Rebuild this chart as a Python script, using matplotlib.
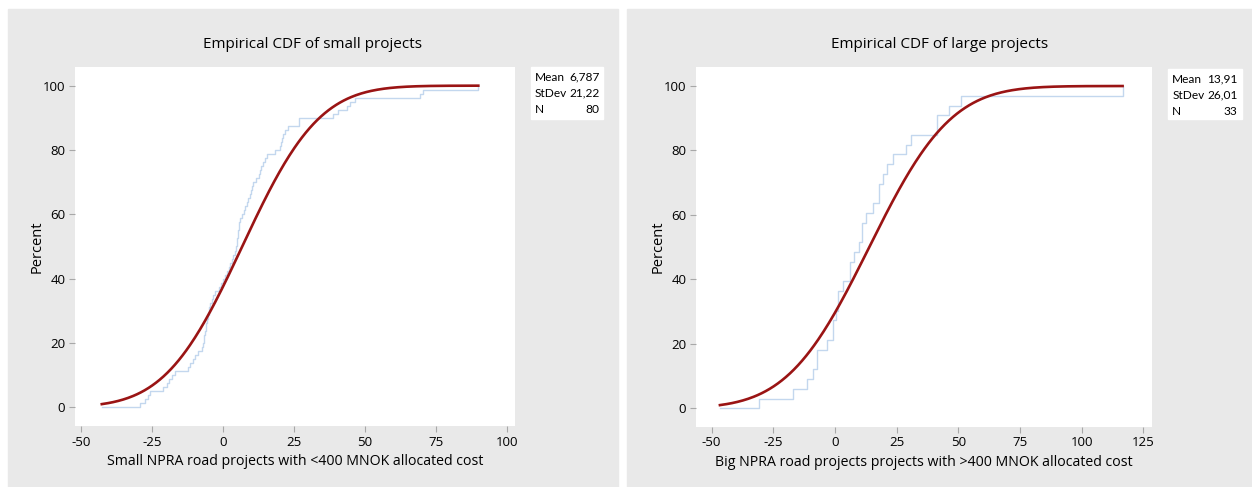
import math
import numpy as np
import matplotlib.pyplot as plt
from matplotlib.patches import Rectangle

plt.rcParams["axes.unicode_minus"] = False

# Percent cost deviation per project, sorted
small_values = [-29.2, -27.5, -26.2, -25.7, -21.0, -19.8, -18.8, -17.8, -16.9,
                -12.2, -11.4, -10.6, -9.8, -8.6, -7.5, -7.0, -6.8, -6.5, -6.3,
                -6.1, -5.9, -5.7, -5.4, -5.0, -4.8, -4.6, -4.0, -3.4, -2.8,
                -1.5, -0.5, 0.1, 0.6, 1.3, 2.0, 2.6, 3.1, 3.6, 4.4, 4.6, 4.8,
                5.0, 5.2, 5.4, 5.6, 5.8, 6.0, 6.8, 7.3, 7.8, 8.3, 9.0, 9.5,
                10.0, 10.4, 10.7, 11.8, 12.8, 13.0, 13.3, 14.2, 14.9, 15.4,
                18.3, 20.0, 20.3, 20.8, 21.2, 21.8, 23.0, 26.7, 26.8, 38.8,
                40.5, 43.5, 44.8, 46.4, 69.3, 70.5, 89.8]
large_values = [-30.7, -17.1, -11.2, -9.0, -7.4, -7.4, -3.1, -0.7, -0.7, 0.4,
                1.2, 1.2, 3.4, 6.1, 6.1, 7.7, 9.6, 10.8, 10.8, 12.8, 15.5,
                17.8, 17.8, 19.6, 21.2, 23.6, 28.8, 30.7, 41.5, 41.5, 46.3,
                51.1, 116.6]

# Fitted normal parameters shown in the summary boxes
small_mean, small_sd = 6.787, 21.22
large_mean, large_sd = 13.91, 26.01

titles = ["Empirical CDF of small projects", "Empirical CDF of large projects"]
xlabels = ["Small NPRA road projects with <400 MNOK allocated cost",
           "Big NPRA road projects projects with >400 MNOK allocated cost"]
xticks_list = [[-50, -25, 0, 25, 50, 75, 100],
               [-50, -25, 0, 25, 50, 75, 100, 125]]
yticks = [0, 20, 40, 60, 80, 100]

GRAY = "#e9e9e9"
RED = "#9a1414"
BLUE = "#c3d7ee"
TICK = "#a8a8a8"
FONT = "Open Sans"
BOXFONT = "Lato"

W, H = 1252, 487
fig = plt.figure(figsize=(W / 100, H / 100), dpi=100)
fig.patch.set_facecolor("white")

panels = [(8, 617.7), (627, 1252)]
axes_px = [(75, 67, 515, 426), (696, 67, 1151.7, 426.7)]
xlims = [(-52.0, 102.7), (-56.3, 128.4)]
ylims = [(-5.8, 105.8), (-5.7, 105.9)]
boxes = [(530.7, 66.7, 603.3, 119), (1168.3, 68.7, 1241.7, 119)]
samples = [(small_values, small_mean, small_sd),
           (large_values, large_mean, large_sd)]


def norm_cdf(x, mu, sd):
    return np.array([50 * (1 + math.erf((v - mu) / (sd * math.sqrt(2)))) for v in x])


# gray panel backgrounds sit behind everything
bg = fig.add_axes([0, 0, 1, 1], zorder=-10)
bg.set_xlim(0, W)
bg.set_ylim(H, 0)
bg.axis("off")

for i in range(2):
    x0, x1 = panels[i]
    bg.add_patch(Rectangle((x0, 9.3), x1 - x0, H - 9.3, color=GRAY))

    bl, bt, br, bb = boxes[i]
    bg.add_patch(Rectangle((bl, bt), br - bl, bb - bt, color="white"))

    l, t, r, b = axes_px[i]
    ax = fig.add_axes([l / W, 1 - b / H, (r - l) / W, (b - t) / H])
    ax.set_facecolor("white")
    for s in ax.spines.values():
        s.set_visible(False)

    vals, mu, sd = samples[i]
    vals = np.sort(np.array(vals))
    n = len(vals)
    p1 = mu - 2.3263 * sd
    p99 = mu + 2.3263 * sd
    start = min(p1, vals[0])
    end = max(p99, vals[-1])

    # empirical step function
    xs = np.concatenate([[start], vals])
    ys = np.concatenate([[0], 100 * np.arange(1, n + 1) / n])
    ax.step(xs, ys, where="post", color=BLUE, lw=1.0, zorder=2)

    # fitted normal CDF
    grid = np.linspace(start, end, 300)
    ax.plot(grid, norm_cdf(grid, mu, sd), color=RED, lw=1.9, zorder=3)

    ax.set_xlim(*xlims[i])
    ax.set_ylim(*ylims[i])
    ax.set_xticks(xticks_list[i])
    ax.set_yticks(yticks)
    ax.tick_params(length=4, color=TICK, width=0.8, labelsize=9.5, pad=3)
    for lab in ax.get_xticklabels() + ax.get_yticklabels():
        lab.set_family(FONT)
    ax.set_xlabel(xlabels[i], fontsize=10.2, family=FONT, labelpad=4)
    ax.set_ylabel("Percent", fontsize=10.5, family=FONT, labelpad=-1)

    bg.text((x0 + x1) / 2, 44, titles[i], ha="center", va="center",
            fontsize=11, family=FONT)

    rows = [("Mean", f"{mu:.4g}".replace(".", ",")),
            ("StDev", f"{sd:.4g}".replace(".", ",")),
            ("N", str(n))]
    for j, (name, val) in enumerate(rows):
        yy = bt + 10.5 + j * 16
        bg.text(bl + 4, yy, name, ha="left", va="center", fontsize=8.6, family=BOXFONT)
        bg.text(br - 4, yy, val, ha="right", va="center", fontsize=8.6, family=BOXFONT)

fig.savefig("out.png", dpi=100, facecolor=fig.get_facecolor())
